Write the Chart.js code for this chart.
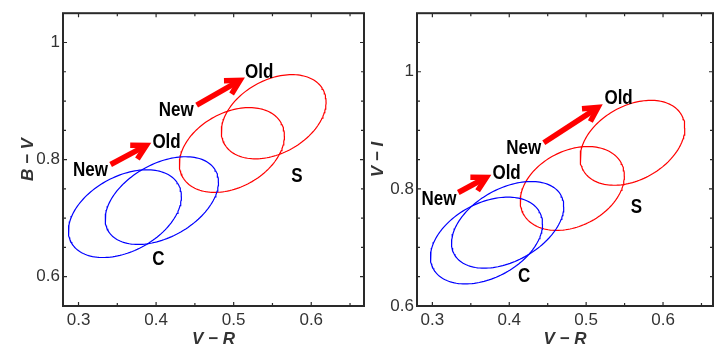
<!DOCTYPE html>
<html lang="en">
<head>
<meta charset="UTF-8">
<title>B-V and V-I against V-R</title>
<style>
  body { margin: 0; background: #fff; width: 720px; height: 351px; overflow: hidden; position: relative; }
  .panel { position: absolute; top: 0; height: 351px; }
  #bvPanel { left: 0; width: 366px; }
  #viPanel { left: 365px; width: 355px; }
</style>
</head>
<body>
<div class="panel" id="bvPanel"><canvas id="bvChart"></canvas></div>
<div class="panel" id="viPanel"><canvas id="viChart"></canvas></div>

<script src="https://cdn.jsdelivr.net/npm/chart.js@4"></script>
<script>
const xTicks = [0.3, 0.4, 0.5, 0.6];
const yTicks = [0.6, 0.8, 1];
// new / old ellipse for each group
const groupNames = ['C', 'C', 'S', 'S'];

// B-V panel ellipses: centre, half width, half height, correlation
const bvCentreX = [0.3598, 0.4074, 0.4977, 0.5516];
const bvCentreY = [0.7077, 0.730, 0.8164, 0.8732];
const bvHalfW = [0.0728, 0.073, 0.0677, 0.0675];
const bvHalfH = [0.0749, 0.0749, 0.0724, 0.0719];
const bvRho = [0.39, 0.42, 0.33, 0.35];

// V-I panel ellipses
const viCentreX = [0.3704, 0.3979, 0.482, 0.5603];
const viCentreY = [0.7118, 0.7386, 0.8007, 0.8787];
const viHalfW = [0.0729, 0.073, 0.0677, 0.0681];
const viHalfH = [0.0741, 0.074, 0.0716, 0.0725];
const viRho = [0.38, 0.42, 0.3, 0.35];

// New -> Old arrows: tail x, tail y, tip x, tip y
const bvArrows = [[0.3414, 0.7916, 0.3918, 0.8273], [0.4523, 0.893, 0.5126, 0.9388]];
const viArrows = [[0.3337, 0.7938, 0.3748, 0.8229], [0.4449, 0.8787, 0.5197, 0.9428]];

// text labels
const bvLabelText = ['New', 'Old', 'New', 'Old', 'C', 'S'];
const bvLabelX = [0.3155, 0.4135, 0.4259, 0.5329, 0.4031, 0.5816];
const bvLabelY = [0.7821, 0.8289, 0.8841, 0.9493, 0.6296, 0.7704];
const viLabelText = ['New', 'Old', 'New', 'Old', 'C', 'S'];
const viLabelX = [0.3085, 0.3965, 0.4187, 0.5422, 0.4193, 0.5655];
const viLabelY = [0.7811, 0.8256, 0.8686, 0.9548, 0.6499, 0.7682];

const groupColors = { C: '#0000ff', S: '#ff0000' };

function ellipsePoints(cx, cy, hw, hh, rho) {
  const pts = [];
  const s = Math.sqrt(1 - rho * rho);
  for (let i = 0; i <= 144; i++) {
    const t = i / 144 * 2 * Math.PI;
    pts.push({ x: cx + hw * Math.cos(t), y: cy + hh * (rho * Math.cos(t) + s * Math.sin(t)) });
  }
  return pts;
}

function buildDatasets(cxs, cys, hws, hhs, rhos) {
  return cxs.map((cx, i) => ({
    label: groupNames[i],
    data: ellipsePoints(cx, cys[i], hws[i], hhs[i], rhos[i]),
    showLine: true,
    borderColor: groupColors[groupNames[i]],
    borderWidth: 1.2,
    pointRadius: 0,
    fill: false,
    tension: 0
  }));
}

function marks(from, to, step) {
  const out = [];
  for (let v = from; v <= to + 1e-9; v += step) out.push(Math.round(v * 1000) / 1000);
  return out;
}

const panelDecor = {
  id: 'panelDecor',
  afterDatasetsDraw(chart, args, opts) {
    const ctx = chart.ctx;
    const xs = chart.scales.x, ys = chart.scales.y;
    const area = chart.chartArea;
    ctx.save();

    // arrows
    ctx.strokeStyle = '#ff0000';
    ctx.lineWidth = 5.5;
    opts.arrows.forEach(a => {
      const x0 = xs.getPixelForValue(a[0]), y0 = ys.getPixelForValue(a[1]);
      const x1 = xs.getPixelForValue(a[2]), y1 = ys.getPixelForValue(a[3]);
      const ang = Math.atan2(y1 - y0, x1 - x0);
      const tx = x1 - 4 * Math.cos(ang), ty = y1 - 4 * Math.sin(ang);
      const len = 16, spread = 0.5;
      ctx.lineCap = 'butt';
      ctx.lineJoin = 'miter';
      ctx.beginPath();
      ctx.moveTo(x0, y0);
      ctx.lineTo(tx - 3 * Math.cos(ang), ty - 3 * Math.sin(ang));
      ctx.stroke();
      ctx.beginPath();
      ctx.moveTo(tx - len * Math.cos(ang - spread), ty - len * Math.sin(ang - spread));
      ctx.lineTo(tx, ty);
      ctx.lineTo(tx - len * Math.cos(ang + spread), ty - len * Math.sin(ang + spread));
      ctx.stroke();
    });

    // labels
    ctx.fillStyle = '#000';
    ctx.font = 'bold 20px "Liberation Sans", Arial, sans-serif';
    ctx.textAlign = 'center';
    ctx.textBaseline = 'middle';
    opts.labelText.forEach((t, i) => {
      ctx.save();
      ctx.translate(xs.getPixelForValue(opts.labelX[i]), ys.getPixelForValue(opts.labelY[i]));
      ctx.scale(0.85, 1);
      ctx.fillText(t, 0, 0);
      ctx.restore();
    });

    // frame and inward ticks
    ctx.strokeStyle = '#2a2a2a';
    ctx.lineWidth = 2;
    ctx.strokeRect(area.left, area.top, area.right - area.left, area.bottom - area.top);
    ctx.lineWidth = 1.2;
    ctx.beginPath();
    marks(0.3, 0.65, 0.05).forEach(v => {
      const p = xs.getPixelForValue(v);
      const l = xTicks.includes(v) ? 4 : 3;
      ctx.moveTo(p, area.bottom); ctx.lineTo(p, area.bottom - l);
      ctx.moveTo(p, area.top); ctx.lineTo(p, area.top + l);
    });
    marks(opts.yFrom, opts.yTo, 0.05).forEach(v => {
      const p = ys.getPixelForValue(v);
      const l = yTicks.includes(v) ? 4 : 3;
      ctx.moveTo(area.left, p); ctx.lineTo(area.left + l, p);
      ctx.moveTo(area.right, p); ctx.lineTo(area.right - l, p);
    });
    ctx.stroke();
    ctx.restore();
  }
};

function makeChart(id, datasets, cfg) {
  return new Chart(document.getElementById(id), {
    type: 'scatter',
    data: { datasets },
    plugins: [panelDecor],
    options: {
      responsive: true,
      maintainAspectRatio: false,
      animation: false,
      layout: { padding: cfg.padding },
      plugins: {
        legend: { display: false },
        tooltip: { enabled: false },
        panelDecor: cfg.decor
      },
      scales: {
        x: {
          type: 'linear',
          min: 0.28,
          max: cfg.xMax,
          grid: { display: false, drawTicks: false },
          border: { display: false },
          afterBuildTicks: s => { s.ticks = xTicks.map(v => ({ value: v })); },
          afterFit: s => { s.height = 45; },
          ticks: {
            color: '#333',
            padding: 4,
            font: { family: '"Liberation Sans", Arial, sans-serif', size: 17 },
            callback: v => String(v)
          },
          title: {
            display: true,
            text: 'V − R',
            color: '#333',
            padding: { top: 0, bottom: 1 },
            font: { family: '"Liberation Sans", Arial, sans-serif', size: 17, weight: 'bold', style: 'italic' }
          }
        },
        y: {
          type: 'linear',
          min: cfg.yMin,
          max: cfg.yMax,
          grid: { display: false, drawTicks: false },
          border: { display: false },
          afterBuildTicks: s => { s.ticks = yTicks.map(v => ({ value: v })); },
          afterFit: s => { s.width = cfg.yWidth; },
          ticks: {
            color: '#333',
            padding: 3,
            font: { family: '"Liberation Sans", Arial, sans-serif', size: 17 },
            callback: v => String(v)
          },
          title: {
            display: true,
            text: cfg.yTitle,
            color: '#333',
            padding: { top: cfg.yTitlePad, bottom: 0 },
            font: { family: '"Liberation Sans", Arial, sans-serif', size: 17, weight: 'bold', style: 'italic' }
          }
        }
      }
    }
  });
}

makeChart('bvChart', buildDatasets(bvCentreX, bvCentreY, bvHalfW, bvHalfH, bvRho), {
  padding: { top: 7, right: 2, bottom: 0, left: 0 },
  xMax: 0.668, yMin: 0.55, yMax: 1.05, yWidth: 63,
  yTitle: 'B − V', yTitlePad: 18,
  decor: { arrows: bvArrows, labelText: bvLabelText, labelX: bvLabelX, labelY: bvLabelY, yFrom: 0.6, yTo: 1.0 }
});

makeChart('viChart', buildDatasets(viCentreX, viCentreY, viHalfW, viHalfH, viRho), {
  padding: { top: 6, right: 7, bottom: 0, left: 0 },
  xMax: 0.665, yMin: 0.6, yMax: 1.1, yWidth: 52,
  yTitle: 'V − I', yTitlePad: 3,
  decor: { arrows: viArrows, labelText: viLabelText, labelX: viLabelX, labelY: viLabelY, yFrom: 0.6, yTo: 1.05 }
});
</script>
</body>
</html>
